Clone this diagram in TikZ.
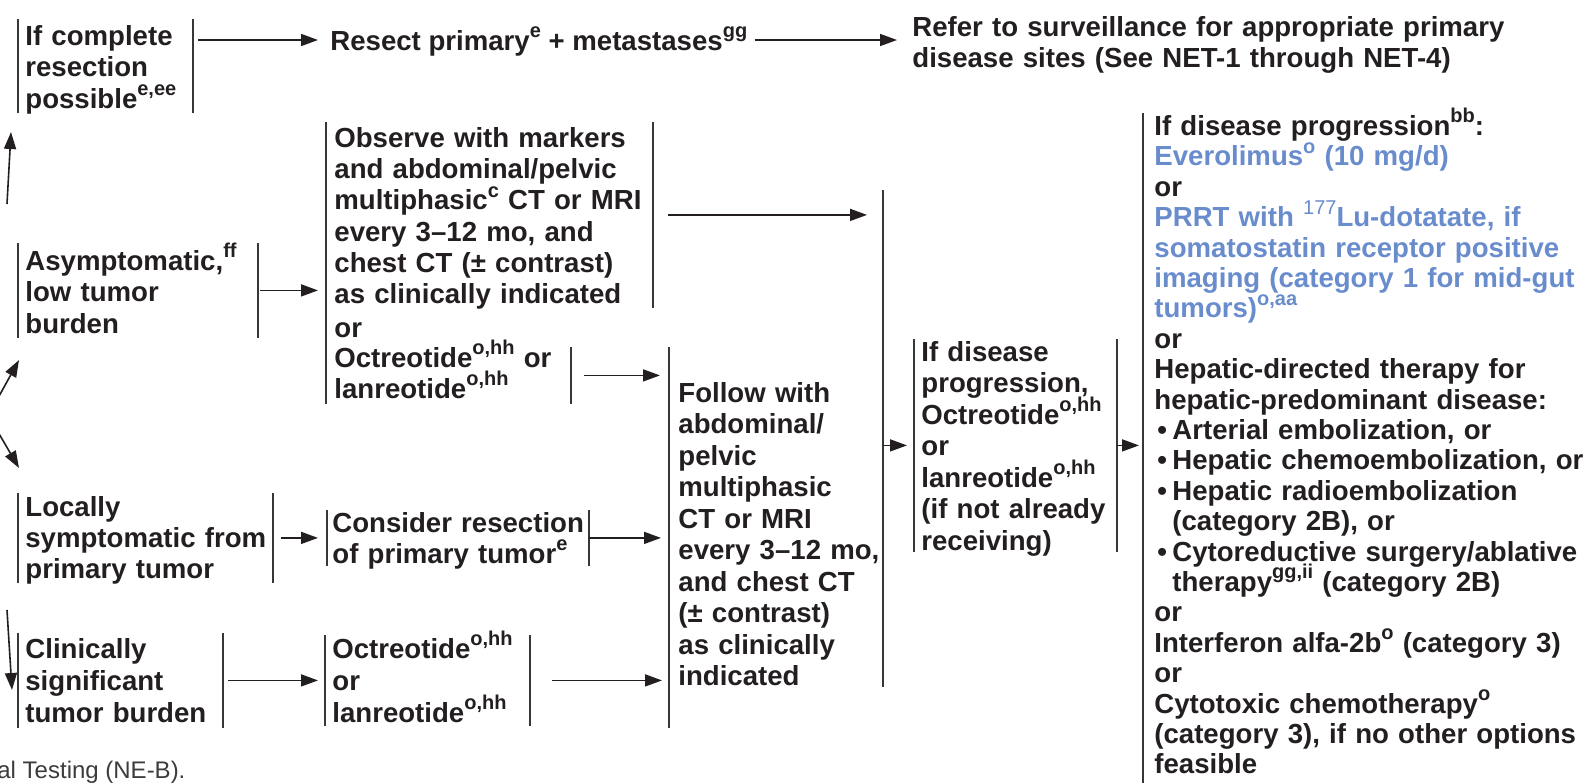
\documentclass[tikz,border=0pt]{standalone}
\usepackage{fontspec}
\setmainfont{Liberation Sans}
\usetikzlibrary{arrows.meta}
\definecolor{ink}{RGB}{35,31,32}
\definecolor{barc}{RGB}{55,55,55}
\definecolor{blu}{RGB}{105,140,205}
\definecolor{foot}{RGB}{60,60,60}
\newcommand\bodyf[1]{\fontsize{13.8pt}{#1}\selectfont\bfseries\hyphenpenalty=10000\exhyphenpenalty=10000}
\newcommand\sps[1]{\smash{\raisebox{0.45em}{\fontsize{10pt}{10pt}\selectfont #1}}}
\newcommand\bulitem{\makebox[9pt][l]{\hspace{1.5pt}•}}
\newcommand\indnt{\hspace*{9pt}}
\newcommand\twobars[1]{\draw[barline] (#1.north west) -- (#1.south west) (#1.north east) -- (#1.south east);}
\newcommand\onebar[1]{\draw[barline] (#1.north west) -- (#1.south west);}
\begin{document}
\begin{tikzpicture}[x=0.5pt,y=-0.5pt,
  every node/.style={inner sep=0pt, text=ink},
  bx/.style={anchor=north west, align=left, inner ysep=0pt},
  barline/.style={draw=barc, line width=0.9pt},
  arr/.style={draw=ink, line width=0.8pt, -{Triangle[length=8.5pt,width=6pt]}}]
\useasboundingbox (0,0) rectangle (1588,782);

% top row
\node[bx, inner xsep=3.5pt, text width=80pt, text height=13pt, text depth=33.5pt, font=\bodyf{15.75pt}] (bcr) at (18,19)
  {If complete\\resection\\possible\sps{e,ee}};
\node[anchor=base west, font=\bodyf{15.5pt}, text depth=0pt] (nres) at (330,50)
  {Resect primary\sps{e} + metastases\sps{gg}};
\node[bx, text width=320pt, text height=11pt, text depth=20pt, font=\bodyf{15.5pt}] (nref) at (912,14)
  {Refer to surveillance for appropriate primary\\disease sites (See NET-1 through NET-4)};

% asymptomatic row
\node[bx, inner xsep=3.5pt, text width=112.5pt, text height=13.5pt, text depth=33.5pt, font=\bodyf{15.75pt}] (bas) at (18,243)
  {Asymptomatic,\sps{ff}\\low tumor\\burden};
\node[bx, inner xsep=4pt, text width=155pt, text height=12.5pt, text depth=80pt, font=\bodyf{15.6pt}] (bobs) at (326,122)
  {Observe with markers\\and abdominal/pelvic\\multiphasic\sps{c}~CT~or~MRI\\every 3–12 mo, and\\chest CT (± contrast)\\as clinically indicated};
\node[anchor=base west, font=\bodyf{15.6pt}] (nor) at (334,337) {or};
\node[bx, inner xsep=4pt, text width=114pt, text height=10pt, text depth=18pt, font=\bodyf{15.3pt}] (boct) at (326,347)
  {Octreotide\sps{o,hh}~or\\lanreotide\sps{o,hh}};

% locally symptomatic row
\node[bx, inner xsep=3.5pt, text width=120pt, text height=11.5pt, text depth=33pt, font=\bodyf{15.5pt}] (bloc) at (18,493)
  {Locally\\symptomatic~from\\primary tumor};
\node[bx, inner xsep=2.5pt, text width=125.5pt, text height=11pt, text depth=16.5pt, font=\bodyf{15.5pt}] (bcon) at (327,510)
  {Consider~resection\\of primary tumor\sps{e}};

% clinically significant row
\node[bx, inner xsep=3.5pt, text width=95pt, text height=12.5pt, text depth=34.5pt, font=\bodyf{16pt}] (bcl) at (18,633)
  {Clinically\\significant\\tumor burden};
\node[bx, inner xsep=3.5pt, text width=95pt, text height=11.5pt, text depth=33.5pt, font=\bodyf{16pt}] (boc2) at (325,635)
  {Octreotide\sps{o,hh}\\or\\lanreotide\sps{o,hh}};

% follow
\node[bx, inner xsep=4.5pt, text width=105pt, text height=27.5pt, text depth=162.5pt, font=\bodyf{15.75pt}] (bfol) at (669,347)
  {Follow with\\abdominal/\\pelvic\\multiphasic\\CT or MRI\\every 3–12 mo,\\and chest CT\\(± contrast)\\as clinically\\indicated};
\coordinate (colT) at (883,190);
\coordinate (colB) at (883,687);

% disease progression
\node[bx, inner xsep=3.5pt, text width=94pt, text height=11pt, text depth=95pt, font=\bodyf{15.75pt}] (bdp) at (914,339)
  {If disease\\progression,\\Octreotide\sps{o,hh}\\or\\lanreotide\sps{o,hh}\\(if~not~already\\receiving)};

% big right column
\node[bx, inner xsep=5.5pt, text width=220pt, text height=11pt, text depth=335pt, font=\bodyf{15.2pt}] (bbig) at (1143,113)
  {If disease progression\sps{bb}:\\
   \textcolor{blu}{Everolimus\sps{o} (10 mg/d)}\\
   or\\
   \textcolor{blu}{PRRT with \sps{\mdseries 177}Lu-dotatate, if}\\
   \textcolor{blu}{somatostatin receptor positive}\\
   \textcolor{blu}{imaging (category 1 for mid-gut}\\
   \textcolor{blu}{tumors)\sps{o,aa}}\\
   or\\
   Hepatic-directed therapy for\\
   hepatic-predominant disease:\\
   \bulitem Arterial embolization, or\\
   \bulitem Hepatic chemoembolization, or\\
   \bulitem Hepatic radioembolization\\
   \indnt (category 2B), or\\
   \bulitem Cytoreductive surgery/ablative\\
   \indnt therapy\sps{gg,ii} (category 2B)\\
   or\\
   Interferon alfa-2b\sps{o} (category 3)\\
   or\\
   Cytotoxic chemotherapy\sps{o}\\
   (category 3), if no other options\\
   feasible};

% footer
\node[anchor=base west, font=\fontsize{12pt}{14pt}\selectfont, text=foot] (nft) at (-15,778) {cal Testing (NE-B).};

% bars
\twobars{bcr}
\twobars{bas}
\draw[barline] (bobs.north west) -- (boct.south west);
\draw[barline] (bobs.north east) -- (bobs.south east);
\draw[barline] (boct.north east) -- (boct.south east);
\twobars{bloc}
\twobars{bcon}
\twobars{bcl}
\twobars{boc2}
\onebar{bfol}
\draw[barline] (colT) -- (colB);
\twobars{bdp}
\onebar{bbig}

% arrows
\draw[arr, shorten <=2.5pt, shorten >=6pt] (bcr.east |- nres.east) -- (nres.west);
\draw[arr, shorten <=3.5pt, shorten >=7.5pt] (nres.east) -- (nres.east -| nref.west);
\draw[arr, shorten <=1pt, shorten >=4pt] (bas.east) -- (bas.east -| bobs.west);
\draw[arr, shorten <=7.5pt, shorten >=8pt] (bobs.east) -- (bobs.east -| colT);
\draw[arr, shorten <=6.5pt, shorten >=4.5pt] (boct.east) -- (boct.east -| bfol.west);
\draw[arr, shorten <=4pt, shorten >=4.5pt] (bloc.east) -- (bloc.east -| bcon.west);
\draw[arr, shorten >=4pt] (bcon.east) -- (bcon.east -| bfol.west);
\draw[arr, shorten <=2.5pt, shorten >=3.5pt] (bcl.east) -- (bcl.east -| boc2.west);
\draw[arr, shorten <=11pt, shorten >=3.5pt] (boc2.east) -- (boc2.east -| bfol.west);
\draw[arr, shorten >=3.5pt] (bdp.west -| colT) -- (bdp.west);
\draw[arr, shorten >=2pt] (bdp.east) -- (bdp.east -| bbig.west);

% arrow ends entering from the left edge
\coordinate (f1a) at (7,204);  \coordinate (f1b) at (11,132);
\coordinate (f2a) at (-2,398); \coordinate (f2b) at (19,360);
\coordinate (f3a) at (-2,432); \coordinate (f3b) at (19,468);
\coordinate (f4a) at (7,610);  \coordinate (f4b) at (12,690);
\draw[arr] (f1a) -- (f1b);
\draw[arr] (f2a) -- (f2b);
\draw[arr] (f3a) -- (f3b);
\draw[arr] (f4a) -- (f4b);
\end{tikzpicture}
\end{document}
